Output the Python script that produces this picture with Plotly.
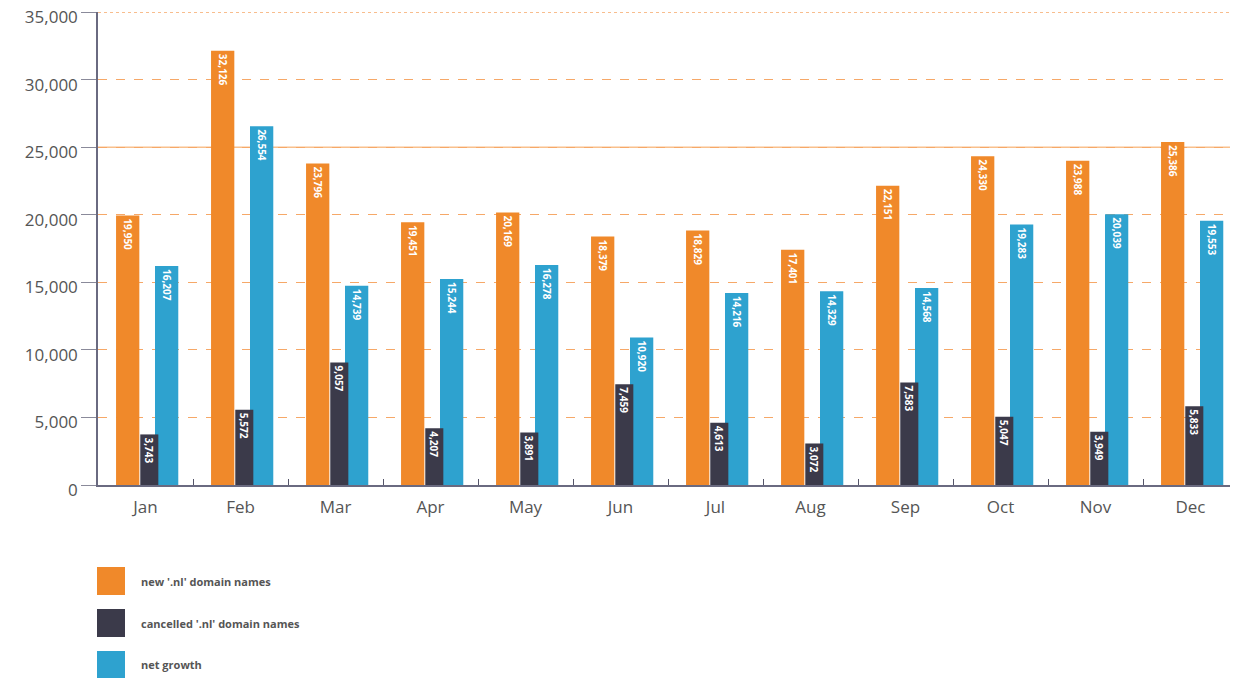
import plotly.graph_objects as go

months = ["Jan", "Feb", "Mar", "Apr", "May", "Jun", "Jul", "Aug", "Sep", "Oct", "Nov", "Dec"]
new_names = [19950, 32126, 23796, 19451, 20169, 18379, 18829, 17401, 22151, 24330, 23988, 25386]
cancelled_names = [3743, 5572, 9057, 4207, 3891, 7459, 4613, 3072, 7583, 5047, 3949, 5833]
net_growth = [16207, 26554, 14739, 15244, 16278, 10920, 14216, 14329, 14568, 19283, 20039, 19553]
y_ticks = [0, 5000, 10000, 15000, 20000, 25000, 30000, 35000]
legend_labels = ["new '.nl' domain names", "cancelled '.nl' domain names", "net growth"]

ORANGE = "#F0892A"
DARK = "#3B3A4A"
BLUE = "#2EA2CF"
GRID = "#F6A868"

def fmt(v):
    return f"{v:,}"

fig = go.Figure()

def add(vals, color, offset, width, name):
    fig.add_trace(go.Bar(
        x=months, y=vals, name=name, marker=dict(color=color, line=dict(width=0)),
        offset=offset, width=width,
        text=[fmt(v) for v in vals], textposition="inside", insidetextanchor="end",
        textangle=90, constraintext="none",
        textfont=dict(family="Open Sans", size=10, color="white", weight="bold"),
        showlegend=False, cliponaxis=False,
    ))

add(new_names, ORANGE, -0.31, 0.245, legend_labels[0])
add(net_growth, BLUE, 0.10, 0.245, legend_labels[2])
add(cancelled_names, DARK, -0.055, 0.19, legend_labels[1])

# page has an 8px body margin: figure coords = page coords - 8
OFF = 8
W, H = 1238 - OFF, 678 - OFF
L, R, T = 98 - OFF, 0, 12 - OFF
B = H - (485 - OFF)
pw, ph = W - L - R, H - T - B

def px2paper_x(px):
    return (px - OFF - L) / pw

def py2paper_y(py):
    return (H - B - (py - OFF)) / ph

shapes = []
annotations = []
legend_colors = [ORANGE, DARK, BLUE]
legend_tops = [567, 609, 651]
for lab, col, top in zip(legend_labels, legend_colors, legend_tops):
    shapes.append(dict(type="rect", xref="paper", yref="paper",
                       x0=px2paper_x(97), x1=px2paper_x(125),
                       y0=py2paper_y(top + 28), y1=py2paper_y(top),
                       fillcolor=col, line=dict(width=0), layer="above"))
    annotations.append(dict(xref="paper", yref="paper", x=px2paper_x(139), y=py2paper_y(top + 14),
                            text=lab, showarrow=False, xanchor="left", yanchor="middle",
                            font=dict(family="Open Sans", size=11, color="#555", weight="bold")))

# solid gridline at 25,000 and dotted top line at 35,000
shapes.append(dict(type="line", xref="paper", yref="y", x0=0, x1=1,
                   y0=y_ticks[5], y1=y_ticks[5], line=dict(color="#F9C08C", width=1.5),
                   layer="below"))
shapes.append(dict(type="line", xref="paper", yref="y", x0=0, x1=1,
                   y0=y_ticks[-1], y1=y_ticks[-1], line=dict(color=GRID, width=1.5, dash="dot"),
                   layer="below"))

fig.update_layout(
    width=W, height=H,
    margin=dict(l=L, r=R, t=T, b=B, autoexpand=False),
    paper_bgcolor="white", plot_bgcolor="white",
    barmode="overlay",
    shapes=shapes, annotations=annotations,
    xaxis=dict(
        type="category", range=[-0.5, 11.5], automargin=False,
        showline=True, linecolor="#6a6a80", linewidth=1.5,
        tickson="boundaries", ticks="inside", ticklen=6, tickcolor="#55556a",
        tickfont=dict(family="Open Sans", size=17, color="#555"),
        ticklabelstandoff=6,
        showgrid=False,
    ),
    yaxis=dict(
        range=[0, 35000.1], tickvals=y_ticks, tickformat=",", automargin=False,
        showline=True, linecolor="#6a6a80", linewidth=1.5,
        ticks="outside", ticklen=15, tickcolor="#8a8a9a",
        tickfont=dict(family="Open Sans", size=17, color="#555"),
        ticklabeloverflow="allow", ticklabelshift=5,
        showgrid=True, gridcolor=GRID, griddash="dash", gridwidth=1.2,
        zeroline=False,
    ),
)

fig.write_html("out.html")
